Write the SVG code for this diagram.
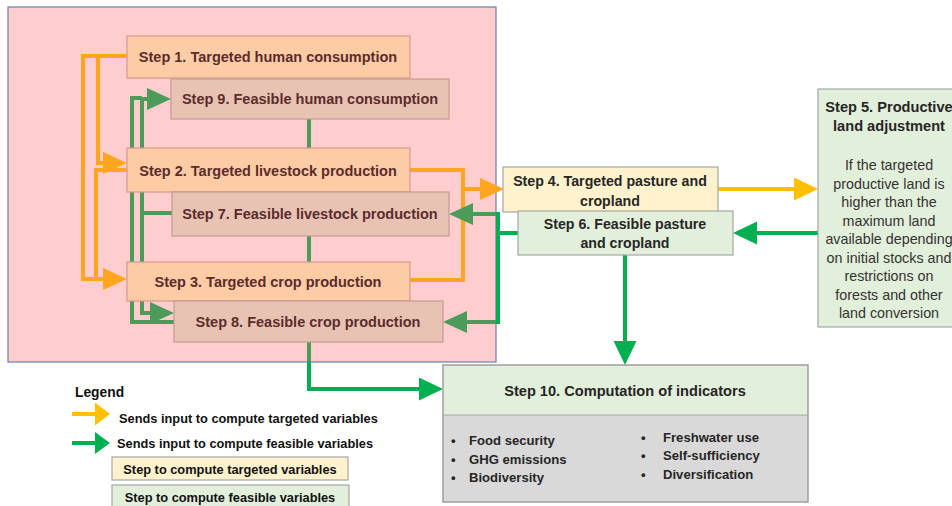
<svg xmlns="http://www.w3.org/2000/svg" width="952" height="506" viewBox="0 0 952 506">
<defs>
<style>
text{font-family:"Liberation Sans",Arial,sans-serif;}
.pt{font-size:14.5px;font-weight:bold;fill:#5B2C2C;text-anchor:middle;}
.t{font-size:14.2px;font-weight:bold;fill:#262626;text-anchor:middle;}
.b{font-size:14.3px;fill:#333;text-anchor:middle;}
.bl{font-size:13.1px;font-weight:bold;fill:#262626;}
.lg{font-size:12.8px;font-weight:bold;fill:#111;}
.tgt{fill:#FDCBA4;stroke:#D59A8E;stroke-width:1.2;}
.fea{fill:#E8C3B3;stroke:#C49A92;stroke-width:1.2;}
.y{fill:#FFF2CC;stroke:#A6A6A6;stroke-width:1.2;}
.g{fill:#E2EFDA;stroke:#A6A6A6;stroke-width:1.2;}
.c{fill:none;stroke-width:4;}
.co{stroke:#FFA61E;}
.cy{stroke:#FFC000;}
.cm{stroke:#4C9B5A;}
.cg{stroke:#00B050;}
</style>
<marker id="mo" markerUnits="userSpaceOnUse" markerWidth="24" markerHeight="24" refX="0" refY="11" orient="auto"><path d="M0,0 L24,11 L0,22 z" fill="#FFA61E"/></marker>
<marker id="my" markerUnits="userSpaceOnUse" markerWidth="24" markerHeight="24" refX="0" refY="11.5" orient="auto"><path d="M0,0 L24,11.5 L0,23 z" fill="#FFC000"/></marker>
<marker id="mm" markerUnits="userSpaceOnUse" markerWidth="24" markerHeight="24" refX="0" refY="11" orient="auto"><path d="M0,0 L24,11 L0,22 z" fill="#4C9B5A"/></marker>
<marker id="mg" markerUnits="userSpaceOnUse" markerWidth="24" markerHeight="24" refX="0" refY="11.5" orient="auto"><path d="M0,0 L24,11.5 L0,23 z" fill="#00B050"/></marker>
<marker id="ly" markerUnits="userSpaceOnUse" markerWidth="16" markerHeight="24" refX="0" refY="11.5" orient="auto"><path d="M0,0 L15,11.5 L0,23 z" fill="#FFC000"/></marker>
<marker id="lg" markerUnits="userSpaceOnUse" markerWidth="16" markerHeight="24" refX="0" refY="11" orient="auto"><path d="M0,0 L15,11 L0,22 z" fill="#00B050"/></marker>
</defs>
<rect x="0" y="0" width="952" height="506" fill="#FFFFFF"/>
<rect id="zone" x="8" y="7" width="488" height="355" fill="#FFCDCD" stroke="#6A7FB0" stroke-width="1.2"/>

<g id="connectors">
<path class="c co" d="M127,56 H83 V279 H103" marker-end="url(#mo)"/>
<path class="c co" d="M127,56 H98 V163 H103" marker-end="url(#mo)"/>
<path class="c co" d="M127,170 H96 V279"/>
<path class="c co" d="M410,170 H463 V280 H410"/>
<path class="c co" d="M463,189 H480" marker-end="url(#mo)"/>
<path class="c cm" d="M174,322 H132 V98 H142"/>
<path class="c cm" d="M172,213 H142 V99 H147" marker-end="url(#mm)"/>
<path class="c cm" d="M142,213 V313 H150" marker-end="url(#mm)"/>
<path class="c cm" d="M309,119 V362"/>
<path class="c cg" d="M309,362 V389 H419" marker-end="url(#mg)"/>
<path class="c cm" d="M496,214 H473" marker-end="url(#mm)"/>
<path class="c cm" d="M496,322 H467" marker-end="url(#mm)"/>
<path class="c cg" d="M518,233 H498 M498,212 V324"/>
<path class="c cy" d="M718,189 H794" marker-end="url(#my)"/>
<path class="c cg" d="M818,233 H757" marker-end="url(#mg)"/>
<path class="c cg" d="M625,255 V341" marker-end="url(#mg)"/>
</g>

<g id="step1"><rect class="tgt" x="127" y="36" width="283" height="42"/><text class="pt" x="268" y="62">Step 1. Targeted human consumption</text></g>
<g id="step9"><rect class="fea" x="171" y="79" width="278" height="40"/><text class="pt" x="310" y="104">Step 9. Feasible human consumption</text></g>
<g id="step2"><rect class="tgt" x="127" y="148" width="283" height="44"/><text class="pt" x="268" y="176">Step 2. Targeted livestock production</text></g>
<g id="step7"><rect class="fea" x="172" y="192" width="277" height="44"/><text class="pt" x="310" y="219">Step 7. Feasible livestock production</text></g>
<g id="step3"><rect class="tgt" x="127" y="262" width="283" height="39"/><text class="pt" x="268" y="287">Step 3. Targeted crop production</text></g>
<g id="step8"><rect class="fea" x="174" y="301" width="269" height="41"/><text class="pt" x="308" y="327">Step 8. Feasible crop production</text></g>

<g id="step4"><rect class="y" x="503" y="167" width="215" height="45"/><text class="t" x="610" y="186">Step 4. Targeted pasture and</text><text class="t" x="610" y="206">cropland</text></g>
<g id="step6"><rect class="g" x="518" y="211" width="215" height="44"/><text class="t" x="625" y="229">Step 6. Feasible pasture</text><text class="t" x="625" y="248">and cropland</text></g>

<g id="step5"><rect class="g" x="818" y="89" width="142" height="238"/>
<text class="t" x="889" y="112" style="font-size:14.6px">Step 5. Productive</text>
<text class="t" x="889" y="130.5" style="font-size:14.6px">land adjustment</text>
<text class="b" x="889" y="170">If the targeted</text>
<text class="b" x="889" y="188.5">productive land is</text>
<text class="b" x="889" y="207">higher than the</text>
<text class="b" x="889" y="225.5">maximum land</text>
<text class="b" x="889" y="244">available depending</text>
<text class="b" x="889" y="262.5">on initial stocks and</text>
<text class="b" x="889" y="281">restrictions on</text>
<text class="b" x="889" y="299.5">forests and other</text>
<text class="b" x="889" y="318">land conversion</text>
</g>

<g id="step10">
<rect x="443" y="365" width="365" height="50" fill="#E2EFDA"/>
<rect x="443" y="415" width="365" height="87" fill="#D9D9D9"/>
<rect x="443" y="365" width="365" height="137" fill="none" stroke="#9E9E9E" stroke-width="1.5"/>
<line x1="443" y1="415" x2="808" y2="415" stroke="#A6A6A6" stroke-width="1"/>
<text class="t" x="625" y="396" style="font-size:14.6px">Step 10. Computation of indicators</text>
<text class="bl" x="451" y="445">•</text><text class="bl" x="469" y="445">Food security</text>
<text class="bl" x="451" y="463.5">•</text><text class="bl" x="469" y="463.5">GHG emissions</text>
<text class="bl" x="451" y="482">•</text><text class="bl" x="469" y="482">Biodiversity</text>
<text class="bl" x="641" y="441.5">•</text><text class="bl" x="663" y="441.5">Freshwater use</text>
<text class="bl" x="641" y="460">•</text><text class="bl" x="663" y="460">Self-sufficiency</text>
<text class="bl" x="641" y="478.5">•</text><text class="bl" x="663" y="478.5">Diversification</text>
</g>

<g id="legend">
<text x="75" y="397" style="font-size:13.8px;font-weight:bold;fill:#111">Legend</text>
<path class="c cy" d="M72,414 H95" marker-end="url(#ly)"/>
<text class="lg" x="119" y="422.5">Sends input to compute targeted variables</text>
<path class="c cg" d="M72,443 H95" marker-end="url(#lg)"/>
<text class="lg" x="117" y="447.5">Sends input to compute feasible variables</text>
<rect class="y" x="112" y="457" width="236" height="23"/>
<text class="lg" x="230" y="473.5" text-anchor="middle">Step to compute targeted variables</text>
<rect class="g" x="112" y="485" width="237" height="26"/>
<text class="lg" x="230" y="501.5" text-anchor="middle">Step to compute feasible variables</text>
</g>
</svg>
